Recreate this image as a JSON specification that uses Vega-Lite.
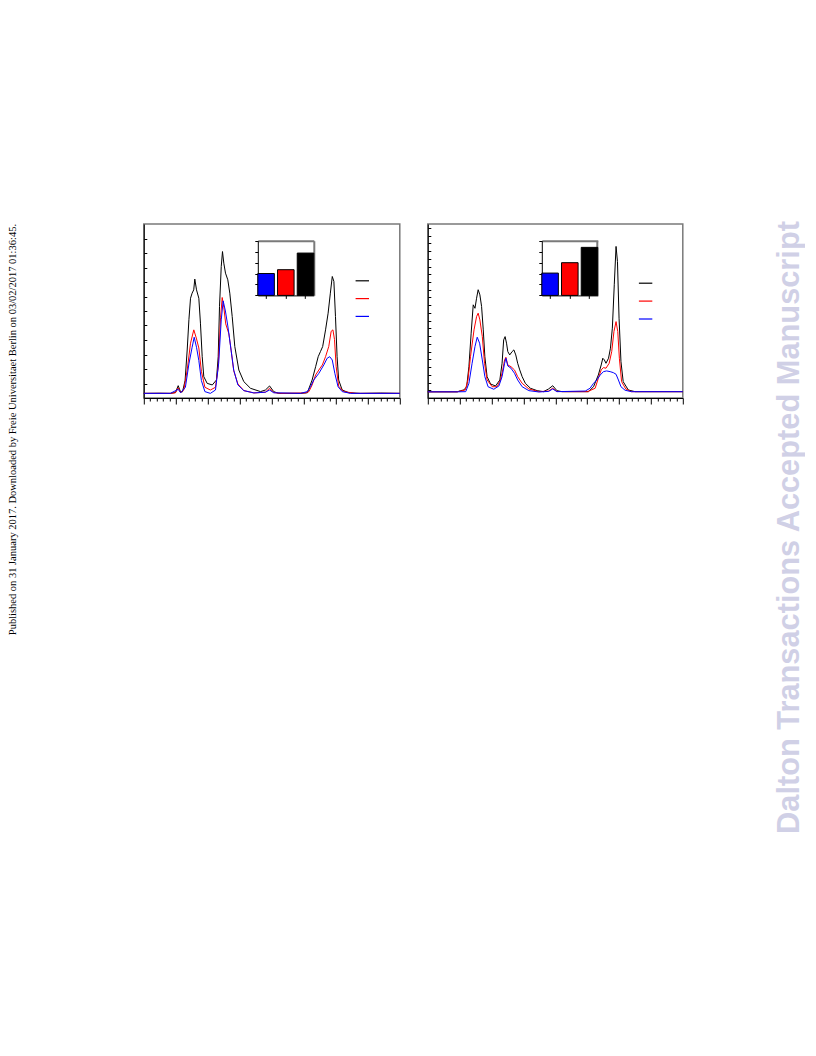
{
  "$schema": "https://vega.github.io/schema/vega-lite/v6.json",
  "background": "white",
  "padding": {"left": 6.8, "top": 220, "right": 0, "bottom": 0},
  "config": {
    "view": {"stroke": "#7a7a7a", "strokeWidth": 1.5},
    "axis": {"labels": false, "title": null, "grid": false, "domainColor": "#000000", "tickColor": "#000000", "domainWidth": 1, "tickWidth": 1}
  },
  "datasets": {
    "left": [
      {"s":"S1","x":0,"y":0.32},{"s":"S1","x":0.5,"y":0.33},{"s":"S1","x":0.83,"y":0.32},{"s":"S1","x":0.99,"y":0.38},{"s":"S1","x":1.075,"y":0.85},{"s":"S1","x":1.15,"y":0.41},{"s":"S1","x":1.21,"y":0.43},{"s":"S1","x":1.29,"y":1.2},{"s":"S1","x":1.356,"y":3.31},{"s":"S1","x":1.41,"y":5.4},{"s":"S1","x":1.46,"y":6.88},{"s":"S1","x":1.51,"y":7.23},{"s":"S1","x":1.56,"y":7.46},{"s":"S1","x":1.594,"y":8.2},{"s":"S1","x":1.647,"y":7.46},{"s":"S1","x":1.72,"y":6.88},{"s":"S1","x":1.77,"y":5.16},{"s":"S1","x":1.825,"y":2.85},{"s":"S1","x":1.875,"y":1.47},{"s":"S1","x":1.98,"y":1.01},{"s":"S1","x":2.14,"y":0.9},{"s":"S1","x":2.27,"y":1.24},{"s":"S1","x":2.325,"y":2.85},{"s":"S1","x":2.366,"y":6.3},{"s":"S1","x":2.42,"y":9.07},{"s":"S1","x":2.459,"y":10.1},{"s":"S1","x":2.5,"y":9.3},{"s":"S1","x":2.553,"y":8.61},{"s":"S1","x":2.625,"y":8.15},{"s":"S1","x":2.6875,"y":7.23},{"s":"S1","x":2.7625,"y":5.62},{"s":"S1","x":2.844,"y":3.55},{"s":"S1","x":2.97,"y":1.93},{"s":"S1","x":3.125,"y":1.13},{"s":"S1","x":3.334,"y":0.67},{"s":"S1","x":3.647,"y":0.44},{"s":"S1","x":3.8,"y":0.55},{"s":"S1","x":3.93,"y":0.83},{"s":"S1","x":4.06,"y":0.44},{"s":"S1","x":4.21,"y":0.32},{"s":"S1","x":4.9,"y":0.32},{"s":"S1","x":5.11,"y":0.36},{"s":"S1","x":5.26,"y":1.24},{"s":"S1","x":5.37,"y":2.16},{"s":"S1","x":5.45,"y":2.85},{"s":"S1","x":5.52,"y":3.2},{"s":"S1","x":5.59,"y":3.55},{"s":"S1","x":5.68,"y":4.7},{"s":"S1","x":5.76,"y":5.85},{"s":"S1","x":5.83,"y":7.23},{"s":"S1","x":5.89,"y":8.38},{"s":"S1","x":5.94,"y":8.04},{"s":"S1","x":5.99,"y":5.62},{"s":"S1","x":6.04,"y":2.85},{"s":"S1","x":6.09,"y":1.24},{"s":"S1","x":6.2,"y":0.55},{"s":"S1","x":6.41,"y":0.36},{"s":"S1","x":6.77,"y":0.32},{"s":"S1","x":7.4,"y":0.34},{"s":"S1","x":8,"y":0.32},
      {"s":"S2","x":0,"y":0.32},{"s":"S2","x":0.83,"y":0.32},{"s":"S2","x":0.99,"y":0.36},{"s":"S2","x":1.075,"y":0.7},{"s":"S2","x":1.15,"y":0.38},{"s":"S2","x":1.25,"y":0.55},{"s":"S2","x":1.356,"y":1.93},{"s":"S2","x":1.46,"y":3.78},{"s":"S2","x":1.5625,"y":4.7},{"s":"S2","x":1.64,"y":4.14},{"s":"S2","x":1.72,"y":3.45},{"s":"S2","x":1.8,"y":1.84},{"s":"S2","x":1.91,"y":0.74},{"s":"S2","x":2.08,"y":0.55},{"s":"S2","x":2.24,"y":0.74},{"s":"S2","x":2.325,"y":2.12},{"s":"S2","x":2.4,"y":5.57},{"s":"S2","x":2.45,"y":6.93},{"s":"S2","x":2.5,"y":6.26},{"s":"S2","x":2.56,"y":5.11},{"s":"S2","x":2.66,"y":4.42},{"s":"S2","x":2.73,"y":3.27},{"s":"S2","x":2.81,"y":1.88},{"s":"S2","x":2.94,"y":0.97},{"s":"S2","x":3.125,"y":0.51},{"s":"S2","x":3.44,"y":0.35},{"s":"S2","x":3.8,"y":0.4},{"s":"S2","x":3.93,"y":0.67},{"s":"S2","x":4.06,"y":0.38},{"s":"S2","x":4.27,"y":0.32},{"s":"S2","x":5.05,"y":0.35},{"s":"S2","x":5.16,"y":0.44},{"s":"S2","x":5.26,"y":0.9},{"s":"S2","x":5.37,"y":1.59},{"s":"S2","x":5.47,"y":1.93},{"s":"S2","x":5.58,"y":2.28},{"s":"S2","x":5.68,"y":2.85},{"s":"S2","x":5.78,"y":3.55},{"s":"S2","x":5.855,"y":4.6},{"s":"S2","x":5.91,"y":4.7},{"s":"S2","x":5.96,"y":4.03},{"s":"S2","x":6.01,"y":2.19},{"s":"S2","x":6.09,"y":0.81},{"s":"S2","x":6.25,"y":0.44},{"s":"S2","x":6.62,"y":0.32},{"s":"S2","x":8,"y":0.32},
      {"s":"S3","x":0,"y":0.32},{"s":"S3","x":0.83,"y":0.32},{"s":"S3","x":1.075,"y":0.6},{"s":"S3","x":1.15,"y":0.36},{"s":"S3","x":1.3,"y":0.74},{"s":"S3","x":1.41,"y":2.35},{"s":"S3","x":1.51,"y":3.5},{"s":"S3","x":1.575,"y":4.19},{"s":"S3","x":1.647,"y":3.5},{"s":"S3","x":1.72,"y":2.58},{"s":"S3","x":1.8,"y":1.2},{"s":"S3","x":1.91,"y":0.44},{"s":"S3","x":2.08,"y":0.32},{"s":"S3","x":2.24,"y":0.55},{"s":"S3","x":2.34,"y":2.4},{"s":"S3","x":2.42,"y":5.39},{"s":"S3","x":2.48,"y":6.7},{"s":"S3","x":2.55,"y":6.0},{"s":"S3","x":2.625,"y":4.97},{"s":"S3","x":2.71,"y":3.59},{"s":"S3","x":2.81,"y":1.93},{"s":"S3","x":2.94,"y":0.9},{"s":"S3","x":3.125,"y":0.51},{"s":"S3","x":3.44,"y":0.35},{"s":"S3","x":3.8,"y":0.4},{"s":"S3","x":3.93,"y":0.55},{"s":"S3","x":4.06,"y":0.36},{"s":"S3","x":4.9,"y":0.32},{"s":"S3","x":5.11,"y":0.44},{"s":"S3","x":5.21,"y":0.78},{"s":"S3","x":5.31,"y":1.24},{"s":"S3","x":5.47,"y":1.7},{"s":"S3","x":5.625,"y":2.28},{"s":"S3","x":5.73,"y":2.74},{"s":"S3","x":5.81,"y":2.85},{"s":"S3","x":5.89,"y":2.62},{"s":"S3","x":5.97,"y":1.7},{"s":"S3","x":6.07,"y":0.78},{"s":"S3","x":6.2,"y":0.44},{"s":"S3","x":6.46,"y":0.32},{"s":"S3","x":8,"y":0.32}
    ],
    "right": [
      {"s":"S1","x":0,"y":0.8},{"s":"S1","x":0.925,"y":0.8},{"s":"S1","x":1.03,"y":0.95},{"s":"S1","x":1.13,"y":1.04},{"s":"S1","x":1.22,"y":1.46},{"s":"S1","x":1.29,"y":4.05},{"s":"S1","x":1.36,"y":8.38},{"s":"S1","x":1.425,"y":12.05},{"s":"S1","x":1.48,"y":11.6},{"s":"S1","x":1.53,"y":12.9},{"s":"S1","x":1.58,"y":14.0},{"s":"S1","x":1.634,"y":13.34},{"s":"S1","x":1.6875,"y":11.83},{"s":"S1","x":1.74,"y":8.81},{"s":"S1","x":1.79,"y":5.35},{"s":"S1","x":1.86,"y":2.76},{"s":"S1","x":1.97,"y":1.81},{"s":"S1","x":2.125,"y":1.55},{"s":"S1","x":2.26,"y":2.33},{"s":"S1","x":2.33,"y":4.49},{"s":"S1","x":2.38,"y":7.51},{"s":"S1","x":2.425,"y":7.94},{"s":"S1","x":2.47,"y":7.09},{"s":"S1","x":2.51,"y":6.0},{"s":"S1","x":2.57,"y":5.57},{"s":"S1","x":2.645,"y":6.0},{"s":"S1","x":2.7,"y":6.22},{"s":"S1","x":2.76,"y":5.57},{"s":"S1","x":2.82,"y":4.49},{"s":"S1","x":2.885,"y":3.63},{"s":"S1","x":2.96,"y":2.76},{"s":"S1","x":3.06,"y":1.9},{"s":"S1","x":3.22,"y":1.26},{"s":"S1","x":3.43,"y":0.95},{"s":"S1","x":3.63,"y":0.82},{"s":"S1","x":3.79,"y":1.17},{"s":"S1","x":3.92,"y":1.59},{"s":"S1","x":4.05,"y":0.95},{"s":"S1","x":4.21,"y":0.82},{"s":"S1","x":5.04,"y":0.82},{"s":"S1","x":5.2,"y":1.46},{"s":"S1","x":5.35,"y":2.98},{"s":"S1","x":5.44,"y":4.27},{"s":"S1","x":5.49,"y":5.14},{"s":"S1","x":5.54,"y":4.92},{"s":"S1","x":5.59,"y":4.49},{"s":"S1","x":5.67,"y":5.14},{"s":"S1","x":5.73,"y":6.44},{"s":"S1","x":5.79,"y":9.03},{"s":"S1","x":5.85,"y":14.64},{"s":"S1","x":5.906,"y":19.6},{"s":"S1","x":5.95,"y":17.66},{"s":"S1","x":6.0,"y":10.32},{"s":"S1","x":6.06,"y":4.7},{"s":"S1","x":6.13,"y":2.11},{"s":"S1","x":6.29,"y":1.04},{"s":"S1","x":6.5,"y":0.82},{"s":"S1","x":8,"y":0.82},
      {"s":"S2","x":0,"y":0.8},{"s":"S2","x":0.925,"y":0.8},{"s":"S2","x":1.175,"y":1.04},{"s":"S2","x":1.26,"y":2.33},{"s":"S2","x":1.34,"y":5.35},{"s":"S2","x":1.45,"y":8.81},{"s":"S2","x":1.53,"y":10.53},{"s":"S2","x":1.58,"y":10.97},{"s":"S2","x":1.634,"y":10.1},{"s":"S2","x":1.71,"y":7.94},{"s":"S2","x":1.78,"y":4.49},{"s":"S2","x":1.86,"y":2.33},{"s":"S2","x":2.02,"y":1.46},{"s":"S2","x":2.175,"y":1.46},{"s":"S2","x":2.28,"y":2.33},{"s":"S2","x":2.35,"y":3.63},{"s":"S2","x":2.41,"y":4.92},{"s":"S2","x":2.45,"y":5.27},{"s":"S2","x":2.51,"y":4.27},{"s":"S2","x":2.61,"y":4.05},{"s":"S2","x":2.72,"y":3.63},{"s":"S2","x":2.82,"y":2.76},{"s":"S2","x":2.96,"y":1.9},{"s":"S2","x":3.17,"y":1.17},{"s":"S2","x":3.48,"y":0.82},{"s":"S2","x":3.79,"y":0.9},{"s":"S2","x":3.92,"y":1.26},{"s":"S2","x":4.05,"y":0.85},{"s":"S2","x":4.29,"y":0.82},{"s":"S2","x":5.01,"y":0.82},{"s":"S2","x":5.25,"y":1.26},{"s":"S2","x":5.35,"y":2.55},{"s":"S2","x":5.44,"y":3.63},{"s":"S2","x":5.51,"y":3.93},{"s":"S2","x":5.59,"y":3.85},{"s":"S2","x":5.69,"y":4.49},{"s":"S2","x":5.77,"y":6.0},{"s":"S2","x":5.84,"y":8.59},{"s":"S2","x":5.906,"y":9.88},{"s":"S2","x":5.96,"y":8.59},{"s":"S2","x":6.01,"y":5.14},{"s":"S2","x":6.08,"y":2.11},{"s":"S2","x":6.21,"y":1.17},{"s":"S2","x":6.39,"y":0.82},{"s":"S2","x":8,"y":0.82},
      {"s":"S3","x":0,"y":0.8},{"s":"S3","x":0.925,"y":0.8},{"s":"S3","x":1.19,"y":0.82},{"s":"S3","x":1.29,"y":1.9},{"s":"S3","x":1.39,"y":4.49},{"s":"S3","x":1.48,"y":6.65},{"s":"S3","x":1.55,"y":7.86},{"s":"S3","x":1.625,"y":7.09},{"s":"S3","x":1.71,"y":4.92},{"s":"S3","x":1.79,"y":2.76},{"s":"S3","x":1.89,"y":1.46},{"s":"S3","x":2.07,"y":1.13},{"s":"S3","x":2.23,"y":1.55},{"s":"S3","x":2.33,"y":2.76},{"s":"S3","x":2.41,"y":4.49},{"s":"S3","x":2.45,"y":5.14},{"s":"S3","x":2.51,"y":4.14},{"s":"S3","x":2.61,"y":3.85},{"s":"S3","x":2.72,"y":3.2},{"s":"S3","x":2.82,"y":2.33},{"s":"S3","x":2.96,"y":1.46},{"s":"S3","x":3.17,"y":0.95},{"s":"S3","x":3.48,"y":0.78},{"s":"S3","x":3.79,"y":0.85},{"s":"S3","x":3.92,"y":1.17},{"s":"S3","x":4.05,"y":0.82},{"s":"S3","x":4.94,"y":0.9},{"s":"S3","x":5.09,"y":1.26},{"s":"S3","x":5.2,"y":1.9},{"s":"S3","x":5.3,"y":2.33},{"s":"S3","x":5.41,"y":2.98},{"s":"S3","x":5.51,"y":3.41},{"s":"S3","x":5.61,"y":3.5},{"s":"S3","x":5.72,"y":3.41},{"s":"S3","x":5.82,"y":3.28},{"s":"S3","x":5.906,"y":3.07},{"s":"S3","x":5.98,"y":2.33},{"s":"S3","x":6.06,"y":1.46},{"s":"S3","x":6.19,"y":1.0},{"s":"S3","x":6.39,"y":0.82},{"s":"S3","x":8,"y":0.82}
    ],
    "barsLeft": [{"s":"S3","v":2.0},{"s":"S2","v":2.35},{"s":"S1","v":3.87}],
    "barsRight": [{"s":"S3","v":2.04},{"s":"S2","v":2.99},{"s":"S1","v":4.39}],
    "mark": [{"label":"Dalton Transactions Accepted Manuscript"}]
  },
  "hconcat": [
    {
      "hconcat": [
        {
          "width": 256, "height": 174,
          "title": {"text": "Published on 31 January 2017. Downloaded by Freie Universitaet Berlin on 03/02/2017 01:36:45.", "orient": "left", "anchor": "end", "frame": "group", "offset": 123, "font": "Liberation Serif", "fontSize": 10.5, "fontWeight": "normal", "color": "#000000"},
          "layer": [
            {
              "data": {"name": "left"},
              "layer": [
                {
                  "mark": {"type": "line", "strokeWidth": 1},
                  "encoding": {
                    "x": {"field": "x", "type": "quantitative", "scale": {"domain": [0, 8], "nice": false}, "axis": {"orient": "bottom", "values": [0,1,2,3,4,5,6,7,8], "tickSize": 6}},
                    "y": {"field": "y", "type": "quantitative", "scale": {"domain": [0, 12], "nice": false, "zero": false}, "axis": {"orient": "left", "values": [1,2,3,4,5,6,7,8,9,10,11], "tickSize": -3}},
                    "color": {"field": "s", "type": "nominal", "scale": {"domain": ["S1","S2","S3"], "range": ["#000000","#ff0000","#0000ff"]},
                      "legend": {"orient": "none", "legendX": 211, "legendY": 49.3, "title": null, "symbolType": "stroke", "symbolSize": 180, "symbolStrokeWidth": 1.2, "labelExpr": "''", "rowPadding": 4.8, "padding": 0, "symbolOffset": 0}}
                  }
                },
                {
                  "mark": {"type": "tick", "opacity": 0},
                  "encoding": {
                    "x": {"field": "x", "type": "quantitative", "axis": {"orient": "bottom", "domain": false, "tickSize": 3, "values": [0.2,0.4,0.6,0.8,1.2,1.4,1.6,1.8,2.2,2.4,2.6,2.8,3.2,3.4,3.6,3.8,4.2,4.4,4.6,4.8,5.2,5.4,5.6,5.8,6.2,6.4,6.6,6.8,7.2,7.4,7.6,7.8]}}
                  }
                }
              ],
              "resolve": {"axis": {"x": "independent"}}
            },
            {
              "data": {"name": "barsLeft"},
              "layer": [
                {
                  "mark": {"type": "bar", "stroke": "#000000", "strokeWidth": 1},
                  "encoding": {
                    "x": {"field": "s", "type": "nominal", "sort": ["S3","S2","S1"], "scale": {"range": [114, 170], "paddingInner": 0.16, "paddingOuter": 0}, "axis": {"orient": "bottom", "offset": -102.6, "tickSize": 3}},
                    "y": {"field": "v", "type": "quantitative", "scale": {"domain": [0, 5], "range": [71.4, 16.7], "nice": false}, "axis": {"orient": "left", "offset": -114, "values": [0,1,2,3,4,5], "tickSize": 3}},
                    "fill": {"field": "s", "type": "nominal", "scale": {"domain": ["S3","S2","S1"], "range": ["#0000ff","#ff0000","#000000"]}, "legend": null}
                  }
                },
                {
                  "mark": {"type": "bar", "opacity": 0},
                  "encoding": {
                    "x": {"field": "s", "type": "nominal", "sort": ["S3","S2","S1"], "axis": {"orient": "top", "offset": -16.7, "ticks": false, "domainColor": "#7a7a7a", "domainWidth": 2}},
                    "y": {"field": "v", "type": "quantitative", "axis": {"orient": "right", "offset": -86, "ticks": false, "domainColor": "#7a7a7a", "domainWidth": 2}}
                  }
                }
              ],
              "resolve": {"axis": {"x": "independent", "y": "independent"}}
            }
          ],
          "resolve": {"scale": {"x": "independent", "y": "independent"}}
        },
        {
          "width": 255, "height": 174,
          "layer": [
            {
              "data": {"name": "right"},
              "layer": [
                {
                  "mark": {"type": "line", "strokeWidth": 1},
                  "encoding": {
                    "x": {"field": "x", "type": "quantitative", "scale": {"domain": [0, 8], "nice": false}, "axis": {"orient": "bottom", "values": [0,1,2,3,4,5,6,7,8], "tickSize": 6}},
                    "y": {"field": "y", "type": "quantitative", "scale": {"domain": [0, 22.5], "nice": false, "zero": false}, "axis": {"orient": "left", "values": [1,2,3,4,5,6,7,8,9,10,11,12,13,14,15,16,17,18,19,20,21,22], "tickSize": -3}},
                    "color": {"field": "s", "type": "nominal", "scale": {"domain": ["S1","S2","S3"], "range": ["#000000","#ff0000","#0000ff"]},
                      "legend": {"orient": "none", "legendX": 210.3, "legendY": 51.7, "title": null, "symbolType": "stroke", "symbolSize": 180, "symbolStrokeWidth": 1.2, "labelExpr": "''", "rowPadding": 4.9, "padding": 0, "symbolOffset": 0}}
                  }
                },
                {
                  "mark": {"type": "tick", "opacity": 0},
                  "encoding": {
                    "x": {"field": "x", "type": "quantitative", "axis": {"orient": "bottom", "domain": false, "tickSize": 3, "values": [0.2,0.4,0.6,0.8,1.2,1.4,1.6,1.8,2.2,2.4,2.6,2.8,3.2,3.4,3.6,3.8,4.2,4.4,4.6,4.8,5.2,5.4,5.6,5.8,6.2,6.4,6.6,6.8,7.2,7.4,7.6,7.8]}}
                  }
                }
              ],
              "resolve": {"axis": {"x": "independent"}}
            },
            {
              "data": {"name": "barsRight"},
              "layer": [
                {
                  "mark": {"type": "bar", "stroke": "#000000", "strokeWidth": 1},
                  "encoding": {
                    "x": {"field": "s", "type": "nominal", "sort": ["S3","S2","S1"], "scale": {"range": [114, 170], "paddingInner": 0.16, "paddingOuter": 0}, "axis": {"orient": "bottom", "offset": -102.6, "tickSize": 3}},
                    "y": {"field": "v", "type": "quantitative", "scale": {"domain": [0, 5], "range": [71.4, 16.7], "nice": false}, "axis": {"orient": "left", "offset": -114, "values": [0,1,2,3,4,5], "tickSize": 3}},
                    "fill": {"field": "s", "type": "nominal", "scale": {"domain": ["S3","S2","S1"], "range": ["#0000ff","#ff0000","#000000"]}, "legend": null}
                  }
                },
                {
                  "mark": {"type": "bar", "opacity": 0},
                  "encoding": {
                    "x": {"field": "s", "type": "nominal", "sort": ["S3","S2","S1"], "axis": {"orient": "top", "offset": -16.7, "ticks": false, "domainColor": "#7a7a7a", "domainWidth": 2}},
                    "y": {"field": "v", "type": "quantitative", "axis": {"orient": "right", "offset": -86, "ticks": false, "domainColor": "#7a7a7a", "domainWidth": 2}}
                  }
                }
              ],
              "resolve": {"axis": {"x": "independent", "y": "independent"}}
            }
          ],
          "resolve": {"scale": {"x": "independent", "y": "independent"}}
        }
      ],
      "spacing": 22,
      "resolve": {"scale": {"color": "independent", "fill": "independent"}, "legend": {"color": "independent"}}
    },
    {
      "width": 30, "height": 607,
      "view": {"stroke": null},
      "data": {"name": "mark"},
      "mark": {"type": "text", "angle": 270, "font": "Liberation Sans", "fontWeight": "bold", "fontSize": 30.8, "color": "#d0d0e6", "align": "center", "baseline": "middle"},
      "encoding": {"text": {"field": "label", "type": "nominal"}}
    }
  ],
  "spacing": 87
}
